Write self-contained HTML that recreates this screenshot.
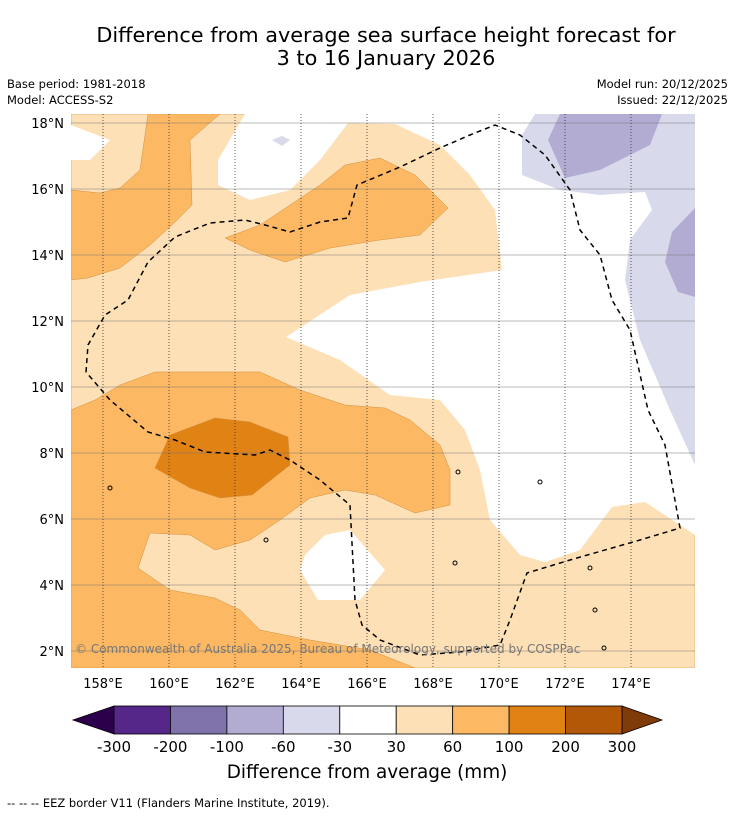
<!DOCTYPE html>
<html><head><meta charset="utf-8"><style>
body{margin:0;background:#fff;width:736px;height:816px;overflow:hidden;font-family:"DejaVu Sans","Liberation Sans",sans-serif;}
svg{position:absolute;left:0;top:0}
</style></head><body>
<svg width="736" height="816" xmlns="http://www.w3.org/2000/svg">
<text x="386" y="42" text-anchor="middle" font-size="20.8">Difference from average sea surface height forecast for</text>
<text x="386" y="65" text-anchor="middle" font-size="20.8">3 to 16 January 2026</text>
<text x="7" y="88" font-size="11.5">Base period: 1981-2018</text>
<text x="7" y="104" font-size="11.5">Model: ACCESS-S2</text>
<text x="728" y="88" font-size="11.5" text-anchor="end">Model run: 20/12/2025</text>
<text x="728" y="104" font-size="11.5" text-anchor="end">Issued: 22/12/2025</text>
<defs><clipPath id="mc"><rect x="71" y="114" width="624" height="554"/></clipPath></defs>
<g id="map" clip-path="url(#mc)"></g>
<g id="axes"></g>
<g id="cbar"></g>
<text x="367" y="778" text-anchor="middle" font-size="18.4">Difference from average (mm)</text>
<text x="7" y="807" font-size="11.5">--  --  -- EEZ border V11 (Flanders Marine Institute, 2019).</text>
</svg>
<script>
// colorbar data
const levels=[-300,-200,-100,-60,-30,30,60,100,200,300];
const colors=["#542788","#8073ac","#b2abd2","#d8daeb","#ffffff","#fee0b6","#fdb863","#e08214","#b35806"];
const underColor="#2d004b", overColor="#7f3b08";
const lonTicks=[158,160,162,164,166,168,170,172,174];
const latTicks=[2,4,6,8,10,12,14,16,18];
const NS="http://www.w3.org/2000/svg";
const X=lon=>103+(lon-158)*33, Y=lat=>123+(18-lat)*33;
function mk(tag,at,parent){const e=document.createElementNS(NS,tag);for(const k in at)e.setAttribute(k,at[k]);parent.appendChild(e);return e;}
const map=document.getElementById('map'),axes=document.getElementById('axes'),cb=document.getElementById('cbar');
// contour shapes (map pixel geometry)
const shapes=[
 [5,[[71,114],[695,114],[695,668],[71,668]]],
 [4,[[71,125],[110,140],[90,160],[71,160]]],
 [4,[[245,114],[218,160],[218,185],[250,200],[290,190],[320,160],[348,123],[395,124],[440,145],[470,175],[495,210],[502,270],[420,282],[350,295],[286,337],[340,360],[390,395],[440,400],[465,430],[480,470],[490,520],[520,555],[545,562],[580,550],[612,507],[645,502],[695,535],[695,114]]],
 [3,[[535,114],[522,135],[522,175],[560,190],[600,195],[645,192],[652,210],[630,240],[625,280],[640,340],[670,410],[695,465],[695,114]]],
 [2,[[560,114],[548,140],[565,178],[600,170],[650,145],[662,114]]],
 [2,[[695,208],[672,232],[665,262],[678,292],[695,297]]],
 [3,[[272,140],[282,136],[290,140],[282,146]]],
 [4,[[305,555],[325,535],[350,530],[385,570],[360,600],[318,600],[300,570]]],
 [6,[[71,190],[100,193],[120,188],[140,170],[148,114],[220,114],[190,140],[192,205],[172,225],[150,245],[120,268],[88,278],[71,280]]],
 [6,[[225,238],[260,225],[290,205],[320,185],[345,165],[380,158],[415,175],[448,208],[420,235],[380,240],[330,248],[285,262],[250,250]]],
 [6,[[71,410],[95,400],[120,385],[155,372],[260,372],[300,390],[345,405],[385,408],[410,420],[440,445],[450,470],[450,505],[415,513],[375,495],[345,490],[310,498],[280,520],[250,540],[215,550],[190,535],[150,533],[138,568],[170,590],[215,598],[240,610],[260,630],[310,640],[370,650],[415,668],[71,668]]],
 [7,[[155,468],[170,435],[215,418],[250,422],[288,437],[290,465],[252,495],[220,498],[190,488]]]
];
shapes.forEach((s,i)=>{const p=mk('polygon',{points:s[1].map(q=>q.join(',')).join(' '),fill:colors[s[0]],stroke:s[0]>=5?'#d09040':'none','stroke-width':0.5},map);

});
// small islands
const islands=[[110,488],[266,540],[455,563],[540,482],[595,610],[604,648],[458,472],[590,568]];
islands.forEach(q=>{const c=mk('circle',{cx:q[0],cy:q[1],r:2,fill:'none',stroke:'#000','stroke-width':1},map);
});
// grid
latTicks.forEach(l=>{const g=mk('line',{x1:71,x2:695,y1:Y(l),y2:Y(l),stroke:'#777','stroke-width':0.5},map);
});
lonTicks.forEach(l=>{const g=mk('line',{x1:X(l),x2:X(l),y1:114,y2:668,stroke:'#333','stroke-width':0.8,'stroke-dasharray':'1,2'},map);
});
// EEZ border
const eez=[[86,372],[88,345],[105,315],[128,300],[148,262],[175,237],[210,223],[245,220],[265,225],[290,232],[320,222],[348,218],[357,185],[400,167],[440,148],[470,135],[495,125],[520,135],[545,155],[570,190],[580,230],[600,255],[612,300],[630,330],[648,410],[665,445],[680,528],[640,540],[570,560],[527,573],[510,620],[500,645],[460,652],[420,655],[380,640],[362,625],[355,600],[350,505],[320,480],[290,460],[270,450],[255,455],[205,452],[175,440],[148,432],[110,400],[86,372]];
const e=mk('polyline',{points:eez.map(q=>q.join(',')).join(' '),fill:'none',stroke:'#000','stroke-width':1.5,'stroke-dasharray':'5,4'},map);

const cp=mk('text',{x:75,y:653,'font-size':12,fill:'#777'},map);cp.textContent='© Commonwealth of Australia 2025, Bureau of Meteorology, supported by COSPPac';

// tick labels
lonTicks.forEach(l=>{const t=mk('text',{x:X(l),y:688,'font-size':13,'text-anchor':'middle'},axes);t.textContent=l+'°E';
});
latTicks.forEach(l=>{const t=mk('text',{x:64,y:Y(l)+5,'font-size':13,'text-anchor':'end'},axes);t.textContent=l+'°N';
});
// colorbar
const cx0=114,cx1=622,cy=706,ch=28,bw=(cx1-cx0)/colors.length;
let u=mk('polygon',{points:`${cx0},${cy} 73,${cy+ch/2} ${cx0},${cy+ch}`,fill:underColor,stroke:'#000','stroke-width':0.8},cb);

let o=mk('polygon',{points:`${cx1},${cy} 662,${cy+ch/2} ${cx1},${cy+ch}`,fill:overColor,stroke:'#000','stroke-width':0.8},cb);

colors.forEach((c,i)=>{const r=mk('rect',{x:cx0+i*bw,y:cy,width:bw,height:ch,fill:c,stroke:'#000','stroke-width':0.8},cb);
});
levels.forEach((v,i)=>{const t=mk('text',{x:cx0+i*bw,y:752,'font-size':15,'text-anchor':'middle'},cb);t.textContent=v;
});
</script>
</body></html>
